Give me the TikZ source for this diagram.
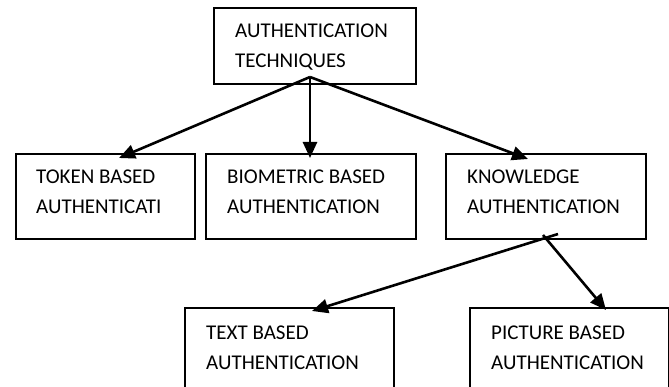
\documentclass[tikz,border=0pt]{standalone}
\usepackage{fontspec}
\setmainfont{Carlito}
\usetikzlibrary{arrows.meta}
\begin{document}
\begin{tikzpicture}[x=1pt,y=-1pt,
  box/.style={draw, line width=1.8pt, anchor=north west, inner sep=0pt},
  lbl/.style={anchor=west, align=left, inner sep=0pt, font=\fontsize{21}{30}\selectfont},
  arr/.style={line width=2.6pt, -{Triangle[length=16pt,width=14pt]}}]
\useasboundingbox (0,0) rectangle (669,387);
\clip (0,0) rectangle (669,387);
% boxes
\node[box, minimum width=202pt, minimum height=76pt] (top) at (213,7) {};
\node[box, minimum width=179pt, minimum height=85pt] (tok) at (15,153) {};
\node[box, minimum width=210pt, minimum height=85pt] (bio) at (205,153) {};
\node[box, minimum width=200pt, minimum height=85pt] (kno) at (445,153) {};
\node[box, minimum width=209pt, minimum height=100pt] (txt) at (184,307) {};
\node[box, minimum width=199pt, minimum height=100pt] (pic) at (469,307) {};
% labels
\node[lbl] (toplbl) at (235,47) {AUTHENTICATION\\TECHNIQUES};
\node[lbl] (toklbl) at (36,192) {TOKEN BASED\\AUTHENTICATI};
\node[lbl] (biolbl) at (227,192) {BIOMETRIC BASED\\AUTHENTICATION};
\node[lbl] (knolbl) at (467,192) {KNOWLEDGE\\AUTHENTICATION};
\node[lbl] (txtlbl) at (206,347.5) {TEXT BASED\\AUTHENTICATION};
\node[lbl] (piclbl) at (491,347.5) {PICTURE BASED\\AUTHENTICATION};
% connector points
\coordinate (apex) at (310,77);
\coordinate (tokin) at (119,158);
\coordinate (bioin) at (310,158);
\coordinate (knoin) at (528,159);
\coordinate (knoa) at (558,234);
\coordinate (knob) at (543,235);
\coordinate (txtin) at (312,311);
\coordinate (picin) at (606,310);
% arrows
\draw[arr] (apex) -- (tokin);
\draw[arr] (apex) -- (bioin);
\draw[arr] (apex) -- (knoin);
\draw[arr] (knoa) -- (txtin);
\draw[arr] (knob) -- (picin);
\end{tikzpicture}
\end{document}
